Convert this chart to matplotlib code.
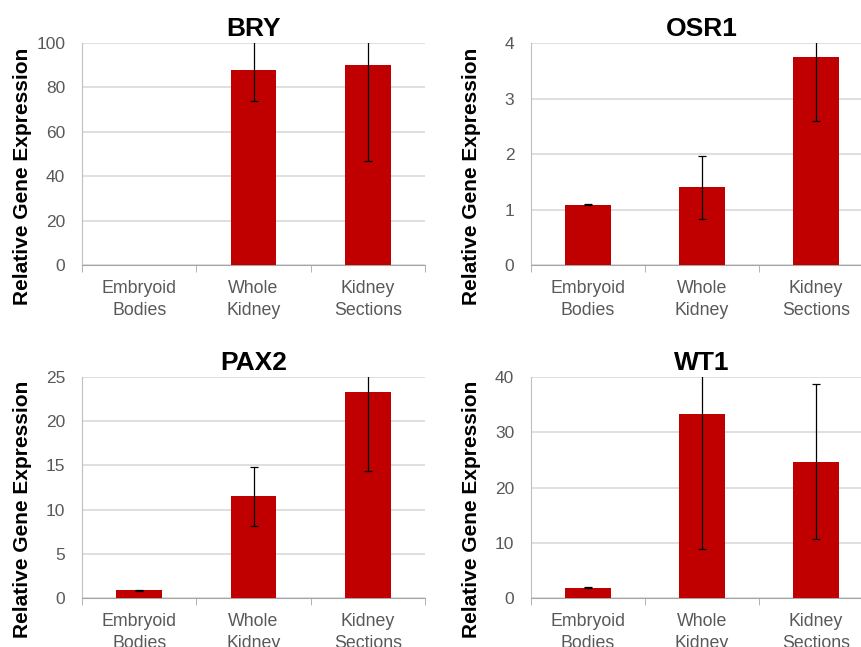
import matplotlib.pyplot as plt

# datos
categorias = ['Embryoid\nBodies', 'Whole\nKidney', 'Kidney\nSections']

bry = [0, 88, 90]
bry_err = [0, 14, 43]

osr1 = [1.09, 1.40, 3.75]
osr1_err = [0.01, 0.57, 1.15]

pax2 = [0.9, 11.5, 23.3]
pax2_err = [0.05, 3.3, 8.9]

wt1 = [1.9, 33.3, 24.7]
wt1_err = [0.1, 24.5, 14.0]

titulos = ['BRY', 'OSR1', 'PAX2', 'WT1']
valores = [bry, osr1, pax2, wt1]
errores = [bry_err, osr1_err, pax2_err, wt1_err]
limites = [100, 4, 25, 40]
pasos = [20, 1, 5, 10]

plt.rcParams['font.family'] = ['Liberation Sans', 'DejaVu Sans']

fig = plt.figure(figsize=(8.62, 6.47), dpi=100)

# posiciones de los ejes [izq, abajo, ancho, alto]
posiciones = [
    [0.0951, 0.5904, 0.398, 0.3431],
    [0.616, 0.5904, 0.3968, 0.3431],
    [0.0951, 0.0757, 0.398, 0.3416],
    [0.616, 0.0757, 0.3968, 0.3416],
]

gris = '#595959'

for i in range(4):
    ax = fig.add_axes(posiciones[i])
    x = list(range(len(categorias)))
    ax.bar(x, valores[i], width=0.4, color='#C00000', zorder=3)

    # solo barras con valor tienen barra de error
    xe = [x[j] for j in x if valores[i][j] > 0]
    ye = [valores[i][j] for j in x if valores[i][j] > 0]
    ee = [errores[i][j] for j in x if valores[i][j] > 0]
    ax.errorbar(xe, ye, yerr=ee, fmt='none', ecolor='black',
                elinewidth=0.9, capsize=3, capthick=0.9, zorder=4)

    ax.set_xlim(-0.5, 2.5)
    ax.set_ylim(0, limites[i])
    ax.set_yticks([k * pasos[i] for k in range(int(limites[i] / pasos[i]) + 1)])
    ax.set_xticks(x)
    ax.set_xticklabels(categorias, linespacing=1.35)
    ax.set_xticks([-0.5, 0.5, 1.5, 2.5], minor=True)

    ax.tick_params(axis='x', which='major', length=0, pad=11, labelsize=12.8, labelcolor=gris)
    ax.tick_params(axis='x', which='minor', length=5, color='#A6A6A6', direction='out')
    ax.tick_params(axis='y', length=0, pad=12, labelsize=12.5, labelcolor=gris)

    ax.grid(axis='y', color='#D9D9D9', linewidth=1.2, zorder=0)
    ax.spines['top'].set_visible(False)
    ax.spines['right'].set_visible(False)
    ax.spines['left'].set_color('#BFBFBF')
    ax.spines['bottom'].set_color('#A6A6A6')

    ax.set_title(titulos[i], fontsize=19, fontweight='bold', pad=5)
    ax.set_ylabel('Relative Gene Expression', fontsize=15, fontweight='bold')
    ax.yaxis.set_label_coords(-0.146, 0.40)

plt.savefig('out.png', dpi=100)
